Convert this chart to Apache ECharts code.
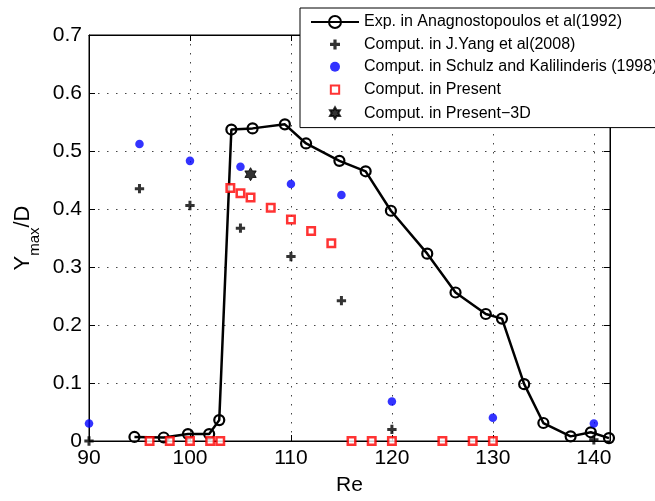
<!DOCTYPE html>
<html>
<head>
<meta charset="utf-8">
<script src="https://cdn.jsdelivr.net/npm/echarts@6/dist/echarts.min.js"></script>
<style>
  html, body { margin: 0; padding: 0; background: #fff; }
  #chart { width: 655px; height: 501px; }
</style>
</head>
<body>
<div id="chart"></div>
<script>
// Experimental curve (Re, Ymax/D)
const expRe = [94.5, 97.4, 99.8, 101.9, 102.9, 104.1, 106.2, 109.4, 111.5, 114.8, 117.4, 119.9, 123.5, 126.3, 129.3, 130.9, 133.1, 135.0, 137.7, 139.7, 141.5];
const expY  = [0.007, 0.006, 0.012, 0.012, 0.036, 0.537, 0.539, 0.546, 0.513, 0.483, 0.465, 0.397, 0.323, 0.256, 0.219, 0.211, 0.098, 0.031, 0.008, 0.015, 0.005];

// J.Yang et al (2008)
const yangRe = [90, 95, 100, 105, 110, 115, 120, 140];
const yangY  = [0, 0.435, 0.406, 0.367, 0.318, 0.242, 0.020, 0.002];

// Schulz and Kalilinderis (1998)
const schulzRe = [90, 95, 100, 105, 110, 115, 120, 130, 140];
const schulzY  = [0.030, 0.512, 0.483, 0.473, 0.443, 0.424, 0.068, 0.040, 0.030];

// Present 2D computations
const presRe = [96, 98, 100, 102, 103, 104, 105, 106, 108, 110, 112, 114, 116, 118, 120, 125, 128, 130];
const presY  = [0, 0, 0, 0, 0, 0.436, 0.427, 0.420, 0.402, 0.382, 0.362, 0.341, 0, 0, 0, 0, 0, 0];

// Present 3D computation
const pres3dRe = [106];
const pres3dY  = [0.460];

const xTicks = [90, 100, 110, 120, 130, 140];
const yTicks = [0, 0.1, 0.2, 0.3, 0.4, 0.5, 0.6, 0.7];

const zip = (xs, ys) => xs.map((x, i) => [x, ys[i]]);

const FONT = '"Liberation Sans", Arial, Helvetica, sans-serif';

// Marker paths. Each carries two zero-length segments that widen its bounding
// box, so the shape fills only part of the symbol box (keeps legend icons small).
const PAD15 = 'M-2.5,-2.5L-2.5,-2.5M12.5,12.5L12.5,12.5';
const PLUS = 'path://' + PAD15 + 'M3.4,0H6.6V3.4H10V6.6H6.6V10H3.4V6.6H0V3.4H3.4Z';
const DOT = 'path://' + PAD15 + 'M0,5A5,5,0,1,1,10,5A5,5,0,1,1,0,5Z';
const SQUARE = 'path://M-4,-4L-4,-4M14,14L14,14M0,0H10V10H0Z';
const HEXAGRAM = 'path://M-30,-30L-30,-30M230,230L230,230' +
  'M100,0L128.9,50L186.6,50L157.7,100L186.6,150L128.9,150L100,200L71.1,150L13.4,150L42.3,100L13.4,50L71.1,50Z';

const gridLine = { show: true, lineStyle: { color: '#444', width: 1, type: [1.5, 7.5] } };

const chart = echarts.init(document.getElementById('chart'), null, { renderer: 'canvas' });

chart.setOption({
  animation: false,
  backgroundColor: '#fff',
  textStyle: { fontFamily: FONT },
  grid: {
    left: 89, right: 45, top: 35, bottom: 55,
    show: true, borderColor: '#000', borderWidth: 1, backgroundColor: 'transparent'
  },
  legend: {
    orient: 'vertical',
    left: 300, top: 8,
    padding: [6, 12, 6, 10],
    itemGap: 6.4,
    itemWidth: 48, itemHeight: 15,
    symbolKeepAspect: true,
    backgroundColor: '#fff',
    borderColor: '#000', borderWidth: 1, borderRadius: 0,
    textStyle: { fontSize: 16, color: '#000', fontFamily: FONT },
    data: [
      'Exp. in Anagnostopoulos et al(1992)',
      'Comput. in J.Yang et al(2008)',
      'Comput. in Schulz and Kalilinderis (1998)',
      'Comput. in Present',
      'Comput. in Present\u22123D'
    ]
  },
  xAxis: [{
    type: 'value', min: xTicks[0], max: 141.6, interval: 10,
    name: 'Re', nameLocation: 'middle', nameGap: 34,
    nameTextStyle: { fontSize: 21, color: '#000', fontFamily: FONT },
    axisLine: { show: true, onZero: false, lineStyle: { color: '#000', width: 1 } },
    axisTick: { show: true, inside: true, length: 6, lineStyle: { color: '#000' } },
    axisLabel: {
      fontSize: 21, color: '#000', margin: 7, fontFamily: FONT,
      formatter: v => (xTicks.indexOf(v) >= 0 ? String(v) : '')
    },
    splitLine: gridLine
  }, {
    type: 'value', position: 'top', min: xTicks[0], max: 141.6, interval: 10,
    axisLine: { show: true, onZero: false, lineStyle: { color: '#000', width: 1 } },
    axisTick: { show: true, inside: true, length: 6, lineStyle: { color: '#000' } },
    axisLabel: { show: false }, splitLine: { show: false }
  }],
  yAxis: [{
    type: 'value', min: yTicks[0], max: yTicks[yTicks.length - 1], interval: 0.1,
    name: '{a|Y}{b|max}{a|/D}', nameLocation: 'middle', nameGap: 46, nameRotate: 90,
    nameTextStyle: {
      color: '#000', fontFamily: FONT,
      rich: {
        a: { fontSize: 22, lineHeight: 30, verticalAlign: 'top', color: '#000', fontFamily: FONT },
        b: { fontSize: 15, lineHeight: 30, verticalAlign: 'bottom', color: '#000', fontFamily: FONT }
      }
    },
    axisLine: { show: true, onZero: false, lineStyle: { color: '#000', width: 1 } },
    axisTick: { show: true, inside: true, length: 6, lineStyle: { color: '#000' } },
    axisLabel: {
      fontSize: 21, color: '#000', margin: 7, fontFamily: FONT,
      formatter: v => String(Math.round(v * 10) / 10)
    },
    splitLine: gridLine
  }, {
    type: 'value', position: 'right', min: yTicks[0], max: yTicks[yTicks.length - 1], interval: 0.1,
    axisLine: { show: true, onZero: false, lineStyle: { color: '#000', width: 1 } },
    axisTick: { show: true, inside: true, length: 6, lineStyle: { color: '#000' } },
    axisLabel: { show: false }, splitLine: { show: false }
  }],
  series: [{
    name: 'Exp. in Anagnostopoulos et al(1992)',
    type: 'line',
    data: zip(expRe, expY),
    symbol: 'circle', symbolSize: 10,
    lineStyle: { color: '#000', width: 2.5 },
    itemStyle: { color: 'rgba(255,255,255,0)', borderColor: '#000', borderWidth: 2.2 },
    clip: false, z: 3
  }, {
    name: 'Comput. in J.Yang et al(2008)',
    type: 'scatter',
    data: zip(yangRe, yangY),
    symbol: PLUS, symbolSize: 14, symbolKeepAspect: true,
    itemStyle: { color: '#000' },
    clip: false, z: 4
  }, {
    name: 'Comput. in Schulz and Kalilinderis (1998)',
    type: 'scatter',
    data: zip(schulzRe, schulzY),
    symbol: DOT, symbolSize: 12.8, symbolKeepAspect: true,
    itemStyle: { color: '#0000ff' },
    clip: false, z: 4
  }, {
    name: 'Comput. in Present',
    type: 'scatter',
    data: zip(presRe, presY),
    symbol: SQUARE, symbolSize: 13.5, symbolKeepAspect: true,
    itemStyle: { color: '#fff', borderColor: '#ff0000', borderWidth: 2.5 },
    clip: false, z: 5
  }, {
    name: 'Comput. in Present\u22123D',
    type: 'scatter',
    data: zip(pres3dRe, pres3dY),
    symbol: HEXAGRAM, symbolSize: 17, symbolKeepAspect: true,
    itemStyle: { color: '#000', borderColor: '#000', borderWidth: 1 },
    clip: false, z: 5
  }]
});
</script>
</body>
</html>
